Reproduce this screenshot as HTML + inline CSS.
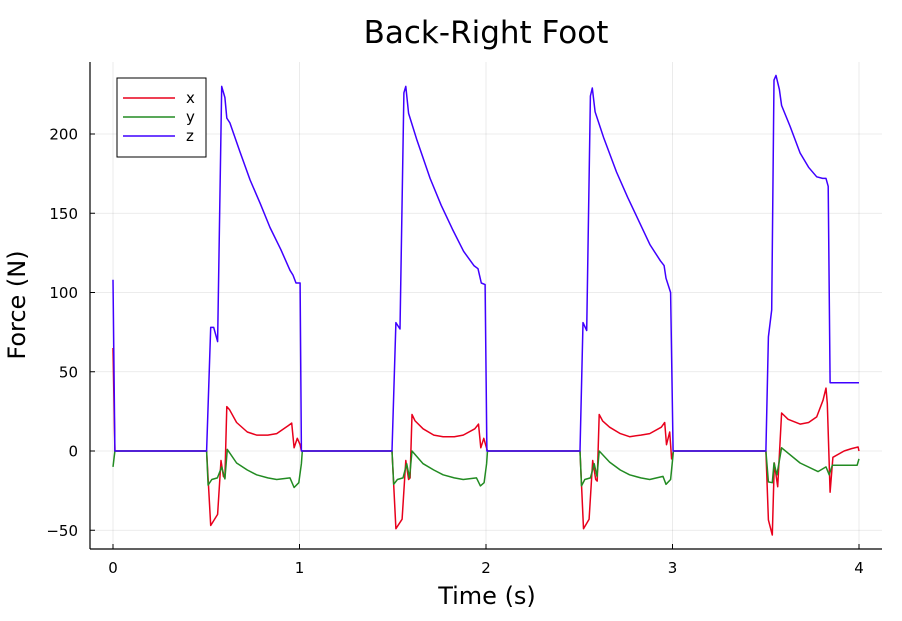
<!DOCTYPE html>
<html><head><meta charset="utf-8"><style>
body{margin:0;background:#fff}
svg{display:block;font-family:"DejaVu Sans","Liberation Sans",sans-serif}
</style></head><body>
<svg id="chart" width="902" height="621" viewBox="0 0 902 621">
<rect width="902" height="621" fill="#fff"/>
<text x="486" y="43" font-size="31" text-anchor="middle">Back-Right Foot</text>
<g id="grid"></g>
<g id="axes"></g>
<g id="series"></g>
<text x="487" y="604" font-size="24" text-anchor="middle">Time (s)</text>
<text x="0" y="0" font-size="24" text-anchor="middle" transform="translate(25,305) rotate(-90)">Force (N)</text>
<g>
<rect x="117" y="78" width="89" height="79" fill="#fff" stroke="#000" stroke-width="1"/>
<g><line x1="123" y1="98" x2="175" y2="98" stroke="#e8001c" stroke-width="1.5"/><text x="186" y="103" font-size="15">x</text></g>
<g><line x1="123" y1="117" x2="175" y2="117" stroke="#228b22" stroke-width="1.5"/><text x="186" y="122" font-size="15">y</text></g>
<g><line x1="123" y1="136" x2="175" y2="136" stroke="#3f00ff" stroke-width="1.5"/><text x="186" y="141" font-size="15">z</text></g>
</g>
</svg>
<script>
const xTicks=[0,1,2,3,4];
const yTicks=[-50,0,50,100,150,200];
const xTickLabels=["0","1","2","3","4"];
const yTickLabels=["\u221250","0","50","100","150","200"];
const forceX=[[0,65],[0.01,0],[0.502,0],[0.524,-47],[0.561,-40],[0.579,-6],[0.592,-16],[0.6,-17],[0.61,28],[0.625,26],[0.663,18],[0.72,12],[0.77,10],[0.83,10],[0.878,11],[0.94,16],[0.958,17.6],[0.971,2],[0.988,8],[1.003,4],[1.01,0],
[1.496,0],[1.517,-49],[1.55,-43],[1.57,-6],[1.585,-18],[1.593,-17],[1.603,23],[1.62,19],[1.663,14],[1.72,10],[1.77,9],[1.83,9],[1.878,10],[1.94,14],[1.96,17],[1.972,2],[1.988,8],[2.0,3],[2.008,0],
[2.504,0],[2.523,-49],[2.553,-43],[2.572,-6],[2.588,-18],[2.596,-19],[2.607,23],[2.625,19],[2.663,15],[2.72,11],[2.77,9],[2.83,10],[2.878,11],[2.94,15],[2.958,18],[2.968,4],[2.985,12],[2.995,-5],[3.005,0],
[3.501,0],[3.514,-43.5],[3.535,-53],[3.546,-7.6],[3.564,-22.5],[3.585,24],[3.62,20],[3.684,17],[3.73,18],[3.773,21.5],[3.807,32],[3.823,39.7],[3.83,30],[3.845,-26],[3.86,-4],[3.92,0],[3.96,1.5],[3.995,2.5],[4.0,0]];
const forceY=[[0,-10],[0.01,0],[0.502,0],[0.51,-21.5],[0.53,-18],[0.56,-17],[0.583,-10],[0.6,-17.6],[0.613,1],[0.663,-7.6],[0.72,-12],[0.77,-15],[0.83,-17],[0.878,-18],[0.949,-17],[0.971,-23],[0.996,-20],[1.01,-8],[1.015,0],
[1.496,0],[1.505,-21],[1.525,-18],[1.555,-17],[1.575,-8],[1.59,-17],[1.603,0],[1.663,-8],[1.72,-12],[1.77,-15],[1.83,-17],[1.878,-18],[1.949,-17],[1.97,-22],[1.99,-20],[2.003,-8],[2.008,0],
[2.504,0],[2.512,-22],[2.53,-18],[2.56,-17],[2.58,-8],[2.595,-16],[2.607,0],[2.663,-7],[2.72,-12],[2.77,-15],[2.83,-17],[2.878,-18],[2.949,-16],[2.965,-21],[2.99,-18],[3.0,-6],[3.005,0],
[3.501,0],[3.514,-19.5],[3.535,-20],[3.544,-7.6],[3.56,-15],[3.585,2],[3.684,-7.6],[3.78,-13],[3.823,-10],[3.84,-15],[3.857,-9],[3.99,-9],[4.0,-5]];
const forceZ=[[0,108],[0.01,0],[0.502,0],[0.524,78],[0.54,78],[0.561,69],[0.583,230],[0.6,223],[0.61,210],[0.627,207],[0.68,189],[0.735,171],[0.79,156],[0.842,141],[0.9,127],[0.949,114],[0.965,111],[0.981,106],[1.003,106],[1.01,0],
[1.496,0],[1.517,81],[1.539,77],[1.56,226],[1.57,230],[1.585,213],[1.63,196],[1.7,172],[1.76,155],[1.82,140],[1.88,126],[1.935,117],[1.957,115],[1.975,106],[1.995,105],[2.005,0],
[2.504,0],[2.52,81],[2.54,76],[2.56,224],[2.57,229],[2.585,214],[2.63,198],[2.7,176],[2.76,160],[2.82,145],[2.88,130],[2.935,120],[2.955,117],[2.965,109],[2.99,100],[3.003,0],
[3.501,0],[3.514,72],[3.532,89],[3.544,234],[3.555,237],[3.573,228],[3.585,218],[3.63,205],[3.684,188],[3.73,179],[3.773,173],[3.805,172],[3.823,172],[3.835,167],[3.845,43],[4.0,43]];
const NS="http://www.w3.org/2000/svg";
const L=90,R=882,T=62,B=549;
function sx(t){return 113+t*(859-113)/4;}
function sy(v){return 451-v*(451-134)/200;}
function mk(tag,attrs,parent){const e=document.createElementNS(NS,tag);for(const k in attrs)e.setAttribute(k,attrs[k]);parent.appendChild(e);return e;}
const grid=document.getElementById('grid'),axes=document.getElementById('axes'),ser=document.getElementById('series');
xTicks.forEach((t,i)=>{
 const g=mk('line',{x1:sx(t),x2:sx(t),y1:T,y2:B,stroke:'#000','stroke-opacity':0.1,'stroke-width':0.8},grid);
 
 
 const tk=mk('line',{x1:sx(t),x2:sx(t),y1:B,y2:B-5,stroke:'#000','stroke-width':1},axes);
 
 
 const lb=mk('text',{x:sx(t),y:B+24,'font-size':15,'text-anchor':'middle'},axes);
 lb.textContent=xTickLabels[i];
 
 
});
yTicks.forEach((v,i)=>{
 const g=mk('line',{x1:L,x2:R,y1:sy(v),y2:sy(v),stroke:'#000','stroke-opacity':0.1,'stroke-width':0.8},grid);
 
 
 const tk=mk('line',{x1:L,x2:L+5,y1:sy(v),y2:sy(v),stroke:'#000','stroke-width':1},axes);
 
 
 const lb=mk('text',{x:L-12,y:sy(v)+5.5,'font-size':15,'text-anchor':'end'},axes);
 lb.textContent=yTickLabels[i];
 
 
});
const ax1=mk('line',{x1:L,x2:L,y1:T,y2:B,stroke:'#000','stroke-width':1.2},axes);


const ax2=mk('line',{x1:L,x2:R,y1:B,y2:B,stroke:'#000','stroke-width':1.2},axes);


function line(data,color,name){
 const d=data.map((p,i)=>(i?'L':'M')+sx(p[0]).toFixed(1)+','+sy(p[1]).toFixed(1)).join('');
 const p=mk('path',{d:d,fill:'none',stroke:color,'stroke-width':1.5,'stroke-linejoin':'round'},ser);
 
 
}
line(forceX,'#e8001c','series-x');
line(forceY,'#228b22','series-y');
line(forceZ,'#3f00ff','series-z');
</script>
</body></html>
